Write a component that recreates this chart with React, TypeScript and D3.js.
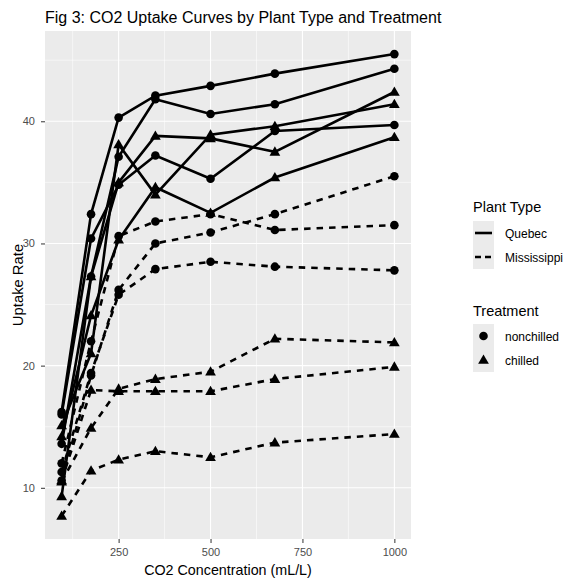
import React, { useEffect, useRef } from 'react';
import * as d3 from 'd3';

// CO2 concentrations (mL/L)
const conc = [95, 175, 250, 350, 500, 675, 1000];

// uptake per plant
const plantNames = ['Qn1', 'Qn2', 'Qn3', 'Qc1', 'Qc2', 'Qc3', 'Mn1', 'Mn2', 'Mn3', 'Mc1', 'Mc2', 'Mc3'];
const plantType = ['Quebec', 'Quebec', 'Quebec', 'Quebec', 'Quebec', 'Quebec',
  'Mississippi', 'Mississippi', 'Mississippi', 'Mississippi', 'Mississippi', 'Mississippi'];
const plantTreatment = ['nonchilled', 'nonchilled', 'nonchilled', 'chilled', 'chilled', 'chilled',
  'nonchilled', 'nonchilled', 'nonchilled', 'chilled', 'chilled', 'chilled'];
const uptake = [
  [16.0, 30.4, 34.8, 37.2, 35.3, 39.2, 39.7],
  [13.6, 27.3, 37.1, 41.8, 40.6, 41.4, 44.3],
  [16.2, 32.4, 40.3, 42.1, 42.9, 43.9, 45.5],
  [14.2, 24.1, 30.3, 34.6, 32.5, 35.4, 38.7],
  [9.3, 27.3, 35.0, 38.8, 38.6, 37.5, 42.4],
  [15.1, 21.0, 38.1, 34.0, 38.9, 39.6, 41.4],
  [10.6, 19.2, 26.2, 30.0, 30.9, 32.4, 35.5],
  [12.0, 22.0, 30.6, 31.8, 32.4, 31.1, 31.5],
  [11.3, 19.4, 25.8, 27.9, 28.5, 28.1, 27.8],
  [10.5, 14.9, 18.1, 18.9, 19.5, 22.2, 21.9],
  [7.7, 11.4, 12.3, 13.0, 12.5, 13.7, 14.4],
  [10.6, 18.0, 17.9, 17.9, 17.9, 18.9, 19.9],
];

const xTicks = [250, 500, 750, 1000];
const xMinor = [125, 375, 625, 875];
const yTicks = [10, 20, 30, 40];
const yMinor = [15, 25, 35, 45];
const typeLevels = ['Quebec', 'Mississippi'];
const treatLevels = ['nonchilled', 'chilled'];

const W = 572, H = 583;
const panel = { left: 45, right: 411, top: 31, bottom: 539 };
const font = 'Liberation Sans, Arial, sans-serif';
const dashed = '6.5,6';

function App() {
  const ref = useRef<SVGSVGElement>(null);

  useEffect(() => {
    const svg = d3.select(ref.current);
    svg.selectAll('*').remove();

    const allVals = uptake.flat();
    const ymin = d3.min(allVals)!, ymax = d3.max(allVals)!;
    const yPad = (ymax - ymin) * 0.05;
    const xPad = (d3.max(conc)! - d3.min(conc)!) * 0.05;

    const x = d3.scaleLinear()
      .domain([d3.min(conc)! - xPad, d3.max(conc)! + xPad])
      .range([panel.left, panel.right]);
    const y = d3.scaleLinear()
      .domain([ymin - yPad, ymax + yPad])
      .range([panel.bottom, panel.top]);

    svg.append('rect').attr('width', W).attr('height', H).attr('fill', '#fff');

    // panel background
    svg.append('rect')
      .attr('x', panel.left).attr('y', panel.top)
      .attr('width', panel.right - panel.left).attr('height', panel.bottom - panel.top)
      .attr('fill', '#EBEBEB');

    const grid = svg.append('g');
    xMinor.forEach(v => grid.append('line')
      .attr('x1', x(v)).attr('x2', x(v)).attr('y1', panel.top).attr('y2', panel.bottom)
      .attr('stroke', '#fff').attr('stroke-width', 0.55));
    yMinor.forEach(v => grid.append('line')
      .attr('y1', y(v)).attr('y2', y(v)).attr('x1', panel.left).attr('x2', panel.right)
      .attr('stroke', '#fff').attr('stroke-width', 0.55));
    xTicks.forEach(v => grid.append('line')
      .attr('x1', x(v)).attr('x2', x(v)).attr('y1', panel.top).attr('y2', panel.bottom)
      .attr('stroke', '#fff').attr('stroke-width', 1.1));
    yTicks.forEach(v => grid.append('line')
      .attr('y1', y(v)).attr('y2', y(v)).attr('x1', panel.left).attr('x2', panel.right)
      .attr('stroke', '#fff').attr('stroke-width', 1.1));

    // axes
    const xAxis = svg.append('g')
      .attr('transform', `translate(0,${panel.bottom})`)
      .call(d3.axisBottom(x).tickValues(xTicks).tickFormat(d3.format('d')).tickSize(4).tickPadding(5));
    const yAxis = svg.append('g')
      .attr('transform', `translate(${panel.left},0)`)
      .call(d3.axisLeft(y).tickValues(yTicks).tickSize(4).tickPadding(6));
    [xAxis, yAxis].forEach(a => {
      a.select('.domain').remove();
      a.selectAll('line').attr('stroke', '#333333').attr('stroke-width', 1);
      a.selectAll('text').attr('fill', '#4D4D4D').style('font-family', font).style('font-size', '11px');
    });

    // lines
    const line = d3.line<number>()
      .x((d, i) => x(conc[i]))
      .y(d => y(d));

    const tri = d3.symbol().type(d3.symbolTriangle).size(50);

    plantNames.forEach((name, p) => {
      const g = svg.append('g').attr('class', 'plant-' + name);
      g.append('path')
        .attr('d', line(uptake[p]))
        .attr('fill', 'none')
        .attr('stroke', '#000')
        .attr('stroke-width', 2.6)
        .attr('stroke-dasharray', plantType[p] === 'Quebec' ? null : dashed);
      uptake[p].forEach((v, i) => {
        if (plantTreatment[p] === 'nonchilled') {
          g.append('circle').attr('cx', x(conc[i])).attr('cy', y(v)).attr('r', 4.3).attr('fill', '#000');
        } else {
          g.append('path').attr('d', tri())
            .attr('transform', `translate(${x(conc[i])},${y(v) + 0.7})`).attr('fill', '#000');
        }
      });
    });

    // titles
    svg.append('text').attr('x', panel.left).attr('y', 23)
      .style('font-family', font).style('font-size', '16px').attr('fill', '#000')
      .text('Fig 3: CO2 Uptake Curves by Plant Type and Treatment');
    svg.append('text').attr('x', (panel.left + panel.right) / 2).attr('y', 575)
      .attr('text-anchor', 'middle')
      .style('font-family', font).style('font-size', '14.3px').attr('fill', '#000')
      .text('CO2 Concentration (mL/L)');
    svg.append('text')
      .attr('transform', `translate(23,${(panel.top + panel.bottom) / 2}) rotate(-90)`)
      .attr('text-anchor', 'middle')
      .style('font-family', font).style('font-size', '14.8px').attr('fill', '#000')
      .text('Uptake Rate');

    // legends
    const lg = svg.append('g');
    lg.append('text').attr('x', 473).attr('y', 212)
      .style('font-family', font).style('font-size', '14.5px').text('Plant Type');
    typeLevels.forEach((t, i) => {
      const ky = 221 + i * 24;
      lg.append('rect').attr('x', 473).attr('y', ky).attr('width', 21).attr('height', 24).attr('fill', '#EBEBEB');
      lg.append('line').attr('x1', 475).attr('x2', 492).attr('y1', ky + 12).attr('y2', ky + 12)
        .attr('stroke', '#000').attr('stroke-width', 2.6)
        .attr('stroke-dasharray', t === 'Quebec' ? null : '6,4');
      lg.append('text').attr('x', 505).attr('y', ky + 16.5)
        .style('font-family', font).style('font-size', '12px').attr('fill', '#000').text(t);
    });

    lg.append('text').attr('x', 473).attr('y', 316)
      .style('font-family', font).style('font-size', '14.5px').text('Treatment');
    treatLevels.forEach((t, i) => {
      const ky = 324 + i * 24;
      lg.append('rect').attr('x', 473).attr('y', ky).attr('width', 21).attr('height', 24).attr('fill', '#EBEBEB');
      if (t === 'nonchilled') {
        lg.append('circle').attr('cx', 483.5).attr('cy', ky + 12).attr('r', 4.3).attr('fill', '#000');
      } else {
        lg.append('path').attr('d', tri()).attr('transform', `translate(483.5,${ky + 12.7})`).attr('fill', '#000');
      }
      lg.append('text').attr('x', 505).attr('y', ky + 16.5)
        .style('font-family', font).style('font-size', '12px').attr('fill', '#000').text(t);
    });
  }, []);

  return <svg ref={ref} width={W} height={H} style={{ position: 'absolute', left: 0, top: 0 }} />;
}

export default App;
